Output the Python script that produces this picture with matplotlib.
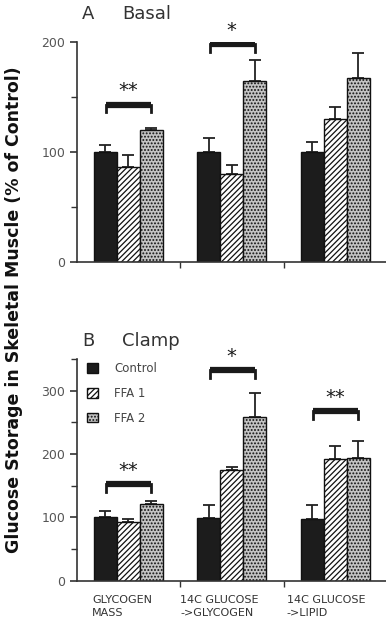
import numpy as np
import matplotlib.pyplot as plt

groups = ["GLYCOGEN\nMASS", "14C GLUCOSE\n->GLYCOGEN", "14C GLUCOSE\n->LIPID"]
series = ["Control", "FFA 1", "FFA 2"]

# panel A (basal), % of control
basal_mean = [[100, 100, 100], [86, 80, 130], [120, 165, 167]]
basal_top = [[106, 113, 109], [97, 88, 141], [122, 184, 190]]
basal_sig = [(0, 143, "**"), (1, 198, "*")]

# panel B (clamp)
clamp_mean = [[100, 99, 98], [93, 174, 192], [121, 259, 193]]
clamp_top = [[110, 119, 119], [98, 180, 213], [125, 297, 221]]
clamp_sig = [(0, 152, "**"), (1, 332, "*"), (2, 268, "**")]

face = ["#1c1c1c", "white", "#c4c4c4"]
hatch = [None, "//////", "....."]
label_x = [0.15, 1.0, 2.03]

plt.rcParams["hatch.linewidth"] = 0.9
fig = plt.figure(figsize=(3.86, 6.24), dpi=100)

W = 103.5 / 386
axA = fig.add_axes([76.5 / 386, 362 / 624, 3 * W, 220 / 624])
axB = fig.add_axes([76.5 / 386, 43.5 / 624, 3 * W, 221.4 / 624])

bw = 0.222
x = np.arange(3) + 0.5


def panel(ax, means, tops, sigs, ymax, step):
    for i in range(3):
        xs = x + (i - 1) * bw
        m = np.array(means[i])
        err = np.array(tops[i]) - m
        ax.bar(xs, m, bw, color=face[i], hatch=hatch[i], edgecolor="#111111",
               linewidth=1.0, label=series[i], zorder=2)
        ax.errorbar(xs, m, yerr=[np.zeros(3), err], fmt="none", ecolor="#222222",
                    elinewidth=1.3, capsize=4.5, capthick=1.3, zorder=1)
    hook = ymax * 0.035
    for g, y, s in sigs:
        x1 = x[g] - bw * 0.95
        x2 = x[g] + bw * 1.0
        ax.plot([x1, x2], [y, y], color="#1a1a1a", lw=4.5, solid_capstyle="butt", zorder=3)
        ax.plot([x1, x1], [y, y - hook], color="#1a1a1a", lw=2.0, zorder=3)
        ax.plot([x2, x2], [y, y - hook], color="#1a1a1a", lw=2.0, zorder=3)
        ax.annotate(s, (x[g], y), xytext=(0, 10), textcoords="offset points",
                    ha="center", va="center", fontsize=14, color="#1a1a1a")
    ax.set_xlim(0, 3)
    ax.set_ylim(0, ymax)
    ax.set_yticks(np.arange(0, ymax + 1, step))
    ax.set_yticks(np.arange(step / 2, ymax + 1, step), minor=True)
    ax.set_xticks([1, 2])
    ax.set_xticklabels([])
    for s in ["top", "right"]:
        ax.spines[s].set_visible(False)
    for s in ["left", "bottom"]:
        ax.spines[s].set_color("#333333")
        ax.spines[s].set_linewidth(1.2)
    ax.tick_params(axis="y", which="major", length=5, width=1.2, color="#333333",
                   labelsize=9, labelcolor="#555555", pad=3)
    ax.tick_params(axis="y", which="minor", length=4, width=1.0, color="#333333")
    ax.tick_params(axis="x", length=4, width=1.0, color="#333333")


panel(axA, basal_mean, basal_top, basal_sig, 200, 100)
panel(axB, clamp_mean, clamp_top, clamp_sig, 350, 100)
axB.set_yticks([0, 100, 200, 300])
axB.set_yticks([50, 150, 250, 350], minor=True)

axB.legend(loc="upper left", bbox_to_anchor=(0.0, 1.035), frameon=False,
           handlelength=0.9, handleheight=0.9, handletextpad=1.4,
           labelspacing=1.0, fontsize=8.5, labelcolor="#444444")

for lx, g in zip(label_x, groups):
    axB.text(lx, -0.065, g, transform=axB.get_xaxis_transform(),
             ha="left", va="top", fontsize=8, color="#333333", linespacing=1.45)

fig.text(82 / 386, 1 - 14 / 624, "A", fontsize=13, color="#333333", va="center")
fig.text(122 / 386, 1 - 14 / 624, "Basal", fontsize=13, color="#333333", va="center")
fig.text(82 / 386, 1 - 341 / 624, "B", fontsize=13, color="#333333", va="center")
fig.text(122 / 386, 1 - 341 / 624, "Clamp", fontsize=13, color="#333333", va="center")

fig.text(14 / 386, 1 - 310 / 624, "Glucose Storage in Skeletal Muscle (% of Control)",
         rotation=90, ha="center", va="center", fontsize=12.5, fontweight="bold",
         color="#111111")

fig.savefig("out.png", dpi=100, facecolor="white")
